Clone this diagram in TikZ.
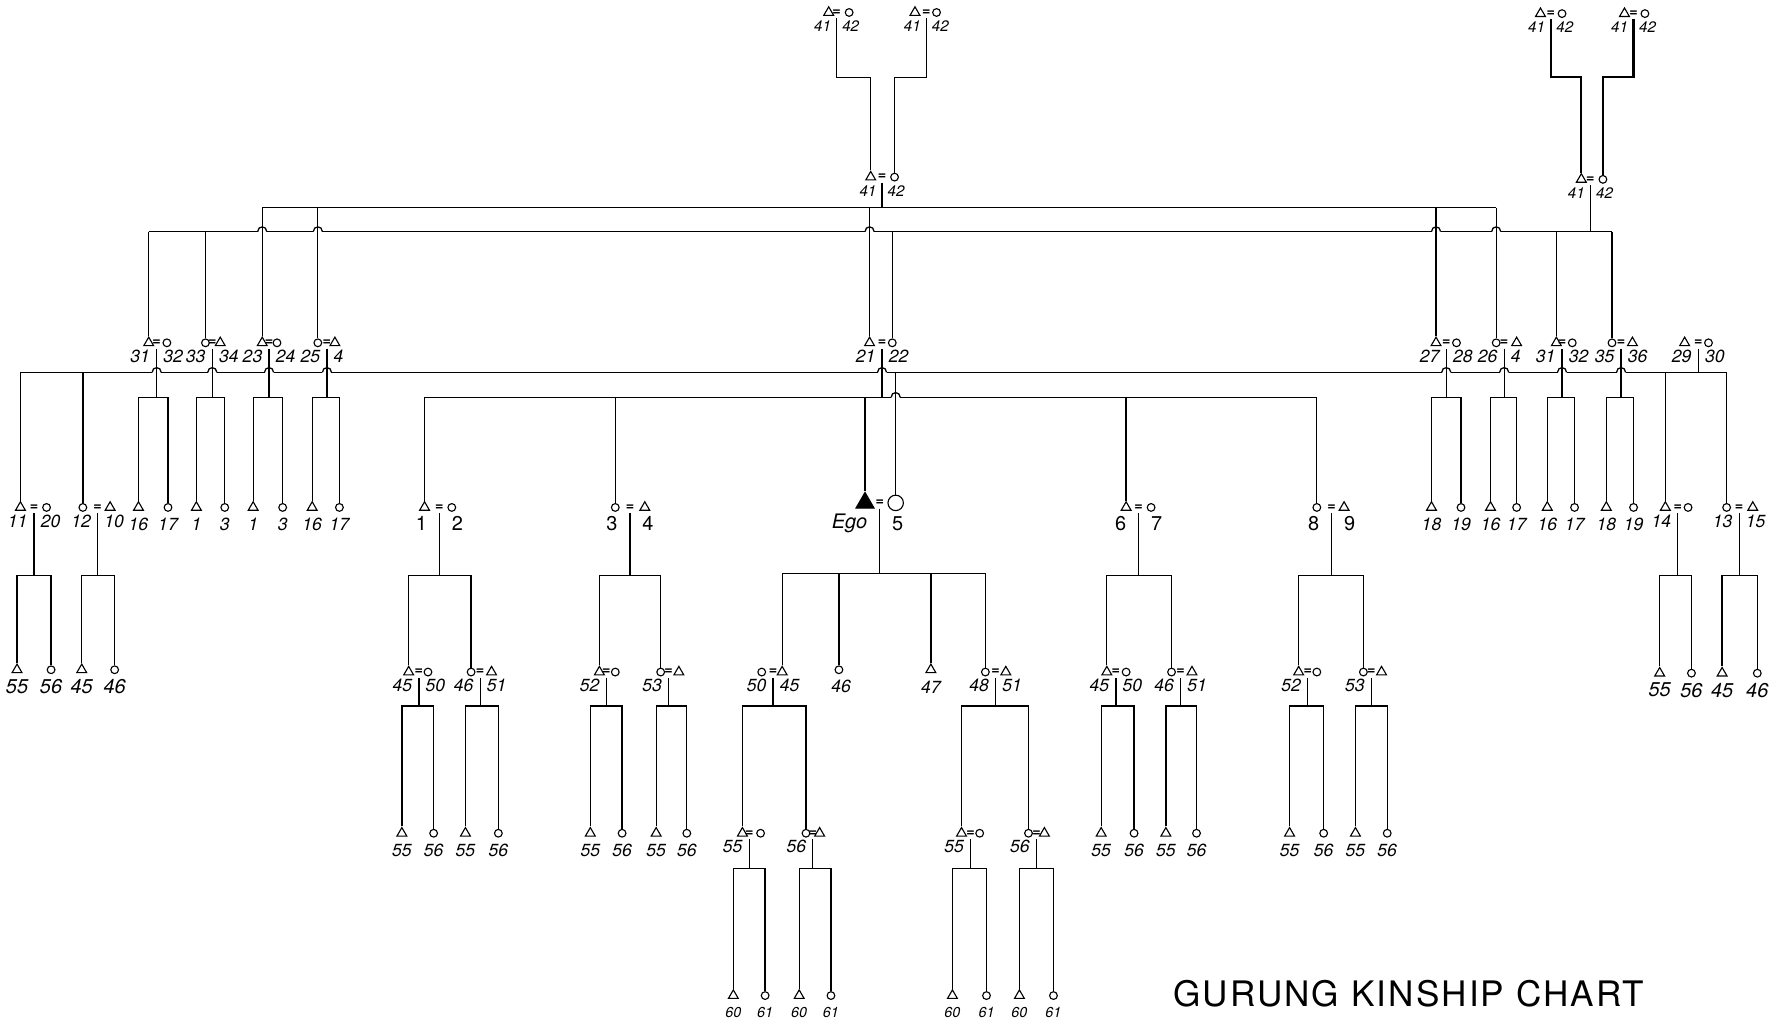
\documentclass[tikz,border=0pt]{standalone}
\usepackage{fontspec}
\setsansfont{TeX Gyre Heros}
\usetikzlibrary{shapes.geometric,calc}

\def\lofs{12}% label drop
\def\lgap{4}% label gap from divider
% a married pair: name, x left, x divider, x right, y, left style, right style, labels
\newcommand{\cpl}[9]{%
  \node[#6] (#1-l) at (#2,#5) {};
  \node[#7] (#1-r) at (#4,#5) {};
  \node[eq] (#1-e) at (#3,#5) {=};
  \node[lbl,anchor=east] (#1-a) at (#3-\lgap,#5+\lofs) {#8};
  \node[lbl,anchor=west] (#1-b) at (#3+\lgap,#5+\lofs) {#9};
  \coordinate (#1) at (#3,#5+5);
}
% son and daughter under a pair
\newcommand{\kids}[7]{%
  \node[tri] (#1-ka) at (#3,#5) {};
  \node[cir] (#1-kb) at (#4,#5) {};
  \node[lbl] (#1-la) at (#3,#5+15) {#6};
  \node[lbl] (#1-lb) at (#4,#5+15) {#7};
  \coordinate (#1-d) at ($(#1)+(0,#2)$);
  \draw (#1) -- (#1-d);
  \draw (#1-ka.north) |- (#1-d) -| (#1-kb.north);
}
% line crossing
\newcommand{\hop}[1]{%
  \begin{scope}[shift={(#1)}]
    \fill[white] (-4,-3) rectangle (4,2);
    \draw (-4,0) .. controls (-4,-5.5) and (4,-5.5) .. (4,0);
  \end{scope}
}

\begin{document}
\begin{tikzpicture}[x=0.025cm,y=-0.025cm,line width=0.8pt,
  tri/.style={draw,regular polygon,regular polygon sides=3,inner sep=0pt,minimum size=0.25cm,line width=0.7pt},
  cir/.style={draw,circle,inner sep=0pt,minimum size=0.17cm,line width=0.7pt},
  egot/.style={tri,fill=black,minimum size=0.46cm},
  egoc/.style={cir,minimum size=0.34cm},
  eq/.style={inner sep=0pt,font=\sffamily\bfseries\fontsize{9}{9}\selectfont},
  lbl/.style={inner sep=1pt,font=\sffamily\itshape\fontsize{11}{11}\selectfont},
  bold/.style={line width=1.4pt}]
\fill[white] (0,0) rectangle (1568,901);
\useasboundingbox (0,0) rectangle (1568,901);

% grandparents
\begin{scope}[lbl/.append style={font=\sffamily\itshape\fontsize{9.5}{9.5}\selectfont}]
\def\lgap{3}
\cpl{tA}{730}{737}{748}{11}{tri}{cir}{41}{42}
\cpl{tB}{806}{816}{825}{11}{tri}{cir}{41}{42}
\cpl{tC}{1357}{1366}{1376}{12}{tri}{cir}{41}{42}
\cpl{tD}{1431}{1439}{1449}{12}{tri}{cir}{41}{42}
\cpl{mA}{767}{777}{788}{156}{tri}{cir}{41}{42}
\cpl{mB}{1393}{1401}{1412}{158}{tri}{cir}{41}{42}
\end{scope}
\draw (tA) -- ++(0,52) -| (mA-l.north);
\draw (tB) -- ++(0,52) -| (mA-r.north);
\draw[bold] (tC) -- ++(0,51) -| (mB-l.north);
\draw[bold] (tD) -- ++(0,51) -| (mB-r.north);

% parents
\cpl{g31}{131}{138}{147}{302}{tri}{cir}{31}{32}
\cpl{g33}{181}{187}{194}{302}{cir}{tri}{33}{34}
\cpl{g23}{231}{237}{244}{302}{tri}{cir}{23}{24}
\cpl{g25}{280}{288}{295}{302}{cir}{tri}{25}{4}
\cpl{g21}{766}{777}{786}{302}{tri}{cir}{21}{22}
\cpl{g27}{1265}{1274}{1283}{302}{tri}{cir}{27}{28}
\cpl{g26}{1318}{1325}{1336}{302}{cir}{tri}{26}{4}
\cpl{g31r}{1371}{1376}{1385}{302}{tri}{cir}{31}{32}
\cpl{g35}{1420}{1428}{1438}{302}{cir}{tri}{35}{36}
\cpl{g29}{1484}{1496}{1505}{302}{tri}{cir}{29}{30}

% Ego's generation
\cpl{h11}{18}{30}{41}{447}{tri}{cir}{11}{20}
\cpl{h12}{73}{86}{97}{447}{cir}{tri}{12}{10}
\begin{scope}[lbl/.append style={font=\sffamily\fontsize{12.5}{12.5}\selectfont}]
\def\lgap{9}\def\lofs{14}
\cpl{h1}{374}{387}{398}{447}{tri}{cir}{1}{2}
\cpl{h3}{542}{555}{568}{447}{cir}{tri}{3}{4}
\def\lofs{18}
\cpl{hE}{762}{775}{789}{443}{egot}{egoc}{\itshape Ego}{5}
\def\lofs{14}
\cpl{h6}{992}{1003}{1014}{447}{tri}{cir}{6}{7}
\cpl{h8}{1160}{1173}{1184}{447}{cir}{tri}{8}{9}
\end{scope}
\cpl{h14}{1467}{1478}{1487}{447}{tri}{cir}{14}{}
\cpl{h13}{1521}{1532}{1544}{447}{cir}{tri}{13}{15}

% children
\cpl{i45}{360}{369}{377}{592}{tri}{cir}{45}{50}
\cpl{i46}{415}{423}{433}{592}{cir}{tri}{46}{51}
\cpl{i52}{528}{534}{542}{592}{tri}{cir}{52}{}
\cpl{i53}{582}{589}{598}{592}{cir}{tri}{53}{}
\cpl{i50}{671}{681}{689}{592}{cir}{tri}{50}{45}
\node[cir] (s46) at (739,590) {};
\node[lbl] (s46-a) at (741,605) {46};
\node[tri] (s47) at (820,590) {};
\node[lbl] (s47-a) at (820,605) {47};
\cpl{i48}{868}{877}{886}{592}{cir}{tri}{48}{51}
\cpl{i45r}{975}{983}{992}{592}{tri}{cir}{45}{50}
\cpl{i46r}{1032}{1040}{1050}{592}{cir}{tri}{46}{51}
\cpl{i52r}{1144}{1152}{1160}{592}{tri}{cir}{52}{}
\cpl{i53r}{1201}{1208}{1217}{592}{cir}{tri}{53}{}

% grandchildren
\cpl{j55}{654}{660}{670}{734}{tri}{cir}{55}{}
\cpl{j56}{710}{716}{722}{734}{cir}{tri}{56}{}
\cpl{j55r}{847}{855}{863}{734}{tri}{cir}{55}{}
\cpl{j56r}{906}{913}{920}{734}{cir}{tri}{56}{}

% long sibling lines
\coordinate (mA-d) at ($(mA)+(0,22)$);
\coordinate (mB-d) at ($(mB)+(0,41)$);
\coordinate (g29-d) at ($(g29)+(0,21)$);
\coordinate (g21-d) at ($(g21)+(0,43)$);
\draw (mA) -- (mA-d);
\draw (mB) -- (mB-d);
\draw (g23-l.north |- mA-d) -- (g26-l.north |- mA-d);
\draw (g31-l.north |- mB-d) -- (g35-l.north |- mB-d);
\draw (h11-l.north |- g29-d) -- (h13-l.north |- g29-d);
\draw (h1-l.north |- g21-d) -- (h8-l.north |- g21-d);

\foreach \c in {g23-l,g25-l,g21-l,g27-l,g26-l} {\hop{\c.north |- mB-d}}
\foreach \c in {g31,g33,g23,g25,g21,g27,g26,g31r,g35} {\hop{\c |- g29-d}}
\hop{hE-r.north |- g21-d}

\foreach \c in {g23-l,g25-l,g21-l,g27-l,g26-l}
  \draw (\c.north |- mA-d) -- (\c.north);
\foreach \c in {g31-l,g33-l,g21-r,g31r-l,g35-l}
  \draw (\c.north |- mB-d) -- (\c.north);
\draw (g29) -- (g29-d);
\foreach \c in {h11-l,h12-l,hE-r,h14-l,h13-l}
  \draw (\c.north |- g29-d) -- (\c.north);
\draw (g21) -- (g21-d);
\foreach \c in {h1-l,h3-l,hE-l,h6-l,h8-l}
  \draw (\c.north |- g21-d) -- (\c.north);

% brackets down to married children
\foreach \p/\a/\b in {h1/i45-l/i46-l,h3/i52-l/i53-l,h6/i45r-l/i46r-l,h8/i52r-l/i53r-l}{
  \coordinate (\p-d) at ($(\p)+(0,55)$);
  \draw (\p) -- (\p-d);
  \draw (\a.north) |- (\p-d) -| (\b.north);
}
\coordinate (hE-d) at ($(hE)+(0,57)$);
\draw (hE) -- (hE-d);
\draw (i50-r.north) |- (hE-d) -| (i48-l.north);
\foreach \c in {s46,s47}
  \draw (\c.north |- hE-d) -- (\c.north);
\foreach \p/\a/\b in {i50/j55-l/j56-l,i48/j55r-l/j56r-l}{
  \coordinate (\p-d) at ($(\p)+(0,25)$);
  \draw (\p) -- (\p-d);
  \draw (\a.north) |- (\p-d) -| (\b.north);
}

% unmarried children
\foreach \p/\xa/\xb/\la/\lb in {g31/122/148/16/17,g33/173/198/1/3,g23/223/249/1/3,g25/275/299/16/17,
  g27/1261/1287/18/19,g26/1313/1336/16/17,g31r/1363/1387/16/17,g35/1415/1439/18/19}
  {\kids{\p}{43}{\xa}{\xb}{447}{\la}{\lb}}
\begin{scope}[lbl/.append style={font=\sffamily\itshape\fontsize{12.5}{12.5}\selectfont}]
\foreach \p/\xa/\xb/\la/\lb/\ky in {h11/15/45/55/56/590,h12/72/101/45/46/590,h14/1462/1490/55/56/593,h13/1517/1548/45/46/593}
  {\kids{\p}{55}{\xa}{\xb}{\ky}{\la}{\lb}}
\end{scope}
\foreach \p/\xa/\xb in {i45/354/382,i46/410/439,i52/520/548,i53/578/605,i45r/970/999,i46r/1027/1054,i52r/1136/1166,i53r/1194/1222}
  {\kids{\p}{25}{\xa}{\xb}{734}{55}{56}}
\begin{scope}[lbl/.append style={font=\sffamily\itshape\fontsize{9}{9}\selectfont}]
\foreach \p/\xa/\xb in {j55/646/674,j56/704/732,j55r/839/869,j56r/898/928}
  {\kids{\p}{26}{\xa}{\xb}{877}{60}{61}}
\end{scope}

\node[font=\sffamily\fontsize{22}{22}\selectfont\addfontfeature{LetterSpace=6}] (ttl) at (1241,875) {GURUNG KINSHIP CHART};
\end{tikzpicture}
\end{document}
